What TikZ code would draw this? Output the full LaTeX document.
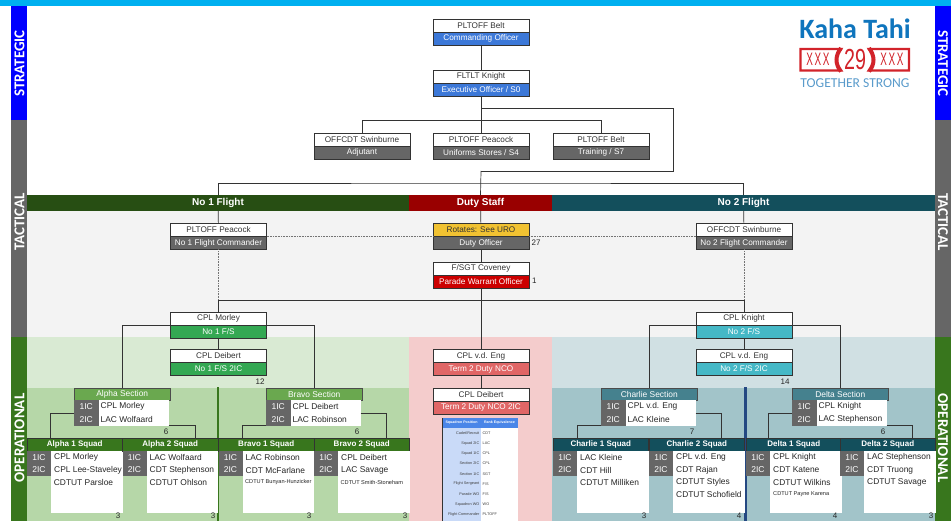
\documentclass[tikz,border=0pt]{standalone}
\usepackage{fontspec}
\setmainfont{Liberation Sans}
\newfontfamily\logofont{Carlito}
\usetikzlibrary{positioning}
\definecolor{topcyan}{HTML}{00B0F0}
\definecolor{stratblue}{HTML}{0000FF}
\definecolor{midgrey}{HTML}{666666}
\definecolor{opgreen}{HTML}{38761D}
\definecolor{darkgreen}{HTML}{274E13}
\definecolor{darkred}{HTML}{990000}
\definecolor{darkteal}{HTML}{134F5C}
\definecolor{tacbg}{HTML}{F3F3F3}
\definecolor{palegreen}{HTML}{D9EAD3}
\definecolor{palered}{HTML}{F4CCCC}
\definecolor{paleteal}{HTML}{D0E0E3}
\definecolor{softgreen}{HTML}{B6D7A8}
\definecolor{softteal}{HTML}{A2C4C9}
\definecolor{coblue}{HTML}{3C78D8}
\definecolor{dutyyellow}{HTML}{F1C232}
\definecolor{pwored}{HTML}{CC0000}
\definecolor{nco}{HTML}{E06666}
\definecolor{fsgreen}{HTML}{34A853}
\definecolor{fsteal}{HTML}{45B8C6}
\definecolor{secgreen}{HTML}{6AA84F}
\definecolor{secteal}{HTML}{45818E}
\definecolor{tablehead}{HTML}{4A86E8}
\definecolor{tablepale}{HTML}{C9DAF8}
\definecolor{logoblue}{HTML}{0F75BD}
\definecolor{logosky}{HTML}{5A9BCB}
\definecolor{logored}{HTML}{D2232A}
\definecolor{linegrey}{HTML}{333333}
\tikzset{
  namebox/.style={draw=linegrey,fill=white,line width=.6pt,minimum width=96pt,minimum height=13pt,inner sep=0pt,outer sep=0pt,anchor=north,font=\fontsize{8.2}{9}\selectfont,text=black!80},
  rolebox/.style={draw=linegrey,line width=.6pt,minimum width=96pt,minimum height=13pt,inner sep=0pt,outer sep=0pt,font=\fontsize{8.2}{9}\selectfont,text=white},
  stripbox/.style={font=\logofont\bfseries\fontsize{15}{16}\selectfont,text=white},
  flightbar/.style={minimum height=15.5pt,inner sep=0pt,outer sep=0pt,text=white,font=\bfseries\fontsize{10}{11}\selectfont},
  sechead/.style={draw=black!70,line width=.6pt,minimum width=96.5pt,minimum height=12.5pt,inner sep=0pt,outer sep=0pt,anchor=north west,text=white,font=\fontsize{8.4}{9}\selectfont},
  sqhead/.style={draw=linegrey,line width=.5pt,minimum width=95.5pt,minimum height=13pt,inner sep=0pt,outer sep=0pt,anchor=north west,text=white,font=\bfseries\fontsize{8}{9}\selectfont},
  icbox/.style={fill=midgrey,minimum width=24.5pt,minimum height=12.5pt,inner sep=0pt,outer sep=0pt,anchor=north west,text=white,font=\fontsize{8.5}{9}\selectfont},
  celltext/.style={anchor=west,inner sep=0pt,text=black!85,font=\fontsize{8.4}{9}\selectfont},
  smalltext/.style={anchor=west,inner sep=0pt,text=black!85,font=\fontsize{5.6}{6}\selectfont},
  whitebody/.style={fill=white,inner sep=0pt,outer sep=0pt,anchor=north west},
  countnum/.style={inner sep=0pt,text=black!85,font=\fontsize{8}{9}\selectfont},
  link/.style={draw=linegrey,line width=.7pt},
  softlink/.style={draw=black!55,line width=.6pt,densely dotted},
  cellhead/.style={inner sep=0pt,text=white,font=\bfseries\fontsize{3.6}{4}\selectfont},
  cellleft/.style={anchor=east,inner sep=0pt,text=black!75,font=\fontsize{3.8}{4}\selectfont},
  cellright/.style={anchor=west,inner sep=0pt,text=black!75,font=\fontsize{3.8}{4}\selectfont},
  bannerline/.style={draw=logored,line width=2.4pt,fill=white,line join=miter},
  bannerend/.style={draw=logored,line width=4pt},
  bannertext/.style={text=logored,inner sep=0pt,font=\fontsize{18}{19}\selectfont}
}
% name, x, top y, person, role, role colour
\newcommand{\posbox}[6]{%
  \node[namebox] (#1) at (#2,#3) {#4};
  \node[rolebox,fill=#6,below=0pt of #1] (#1r) {#5};
}
% name, left x, title, head colour, 1IC, 2IC
\newcommand{\secbox}[6]{%
  \node[sechead,fill=#4] (#1) at (#2,388) {#3};
  \node[icbox] (#1a) at (#2,400.5) {1IC};
  \node[icbox] (#1b) at (#2,413) {2IC};
  \node[whitebody,minimum width=70pt,minimum height=12.5pt] (#1an) at (#1a.north east) {};
  \node[whitebody,minimum width=70pt,minimum height=12.5pt] (#1bn) at (#1b.north east) {};
  \node[celltext] at ([xshift=2pt]#1an.west) {#5};
  \node[celltext] at ([xshift=2pt]#1bn.west) {#6};
}
% name, left x, title, head colour, 1IC, 2IC
\newcommand{\squadbox}[6]{%
  \node[sqhead,fill=#4] (#1) at (#2,438) {#3};
  \node[icbox,minimum width=24pt] (#1a) at (#2,451) {1IC};
  \node[icbox,minimum width=24pt] (#1c) at (#2,463) {2IC};
  \node[whitebody,minimum width=71.5pt,minimum height=61.5pt] (#1b) at (#1a.north east) {};
  \node[celltext] at ([shift={(3,6.5)}]#1b.north west) {#5};
  \node[celltext] at ([shift={(3,19)}]#1b.north west) {#6};
}
\begin{document}
\begin{tikzpicture}[x=1pt,y=-1pt]
  \useasboundingbox (0,0) rectangle (951,521);
  % backgrounds
  \fill[topcyan] (0,0) rectangle (951,6.5);
  \fill[tacbg] (27,211) rectangle (935,337);
  \fill[palegreen] (27,337) rectangle (409,388);
  \fill[softgreen] (27,388) rectangle (409,521);
  \fill[palered] (409,337) rectangle (552,521);
  \fill[paleteal] (552,337) rectangle (935,388);
  \fill[softteal] (552,388) rectangle (935,521);
  % side strips
  \fill[stratblue] (10.5,6.5) rectangle (27,120);
  \fill[midgrey] (10.5,120) rectangle (27,337);
  \fill[opgreen] (10.5,337) rectangle (27,521);
  \fill[stratblue] (935,6.5) rectangle (951,120);
  \fill[midgrey] (935,120) rectangle (951,337);
  \fill[opgreen] (935,337) rectangle (951,521);
  \node[stripbox,rotate=90] at (19.5,63.5) {STRATEGIC};
  \node[stripbox,rotate=90] at (19.5,222) {TACTICAL};
  \node[stripbox,rotate=90] at (19.5,438) {OPERATIONAL};
  \node[stripbox,rotate=-90] at (943,63.5) {STRATEGIC};
  \node[stripbox,rotate=-90] at (943,222) {TACTICAL};
  \node[stripbox,rotate=-90] at (943,438) {OPERATIONAL};
  % section dividers
  \fill[opgreen] (217,387) rectangle (219,521);
  \fill[coblue!60!black] (744,387) rectangle (747,521);
  % logo
  \node[text=logoblue,inner sep=0pt,font=\logofont\bfseries\fontsize{28}{29}\selectfont] (kaha) at (855,29) {Kaha Tahi};
  \draw[bannerline] (800.5,49) -- (841,49) .. controls (835,56) and (835,64) .. (841,70.5) -- (800.5,70.5) -- cycle;
  \draw[bannerline] (909,49) -- (869,49) .. controls (875,56) and (875,64) .. (869,70.5) -- (909,70.5) -- cycle;
  \draw[bannerend] (841,48) .. controls (835,56) and (835,64) .. (841,71.5);
  \draw[bannerend] (869,48) .. controls (875,56) and (875,64) .. (869,71.5);
  \node[text=logored,inner sep=0pt,font=\fontsize{29}{30}\selectfont] (twonine) at (855,60) {\scalebox{.68}[1]{29}};
  \node[bannertext] (xleft) at (818,59.5) {\scalebox{.55}[1]{X\,X\,X}};
  \node[bannertext] (xright) at (892,59.5) {\scalebox{.55}[1]{X\,X\,X}};
  \node[text=logosky,inner sep=0pt,font=\logofont\fontsize{13.6}{14}\selectfont] (strong) at (855,83.5) {TOGETHER STRONG};
  % strategic boxes
  \posbox{co}{481}{19}{PLTOFF Belt}{Commanding Officer}{coblue}
  \posbox{xo}{481}{70}{FLTLT Knight}{Executive Officer / S0}{coblue}
  \posbox{adj}{362}{133}{OFFCDT Swinburne}{Adjutant}{midgrey}
  \posbox{uni}{481}{133}{PLTOFF Peacock}{Uniforms Stores / S4}{midgrey}
  \posbox{trg}{601}{133}{PLTOFF Belt}{Training / S7}{midgrey}
  % flight bars
  \node[flightbar,fill=darkgreen,minimum width=382pt] (flightone) at (218,203) {No 1 Flight};
  \node[flightbar,fill=darkred,minimum width=143pt] (dstaff) at (480.5,203) {Duty Staff};
  \node[flightbar,fill=darkteal,minimum width=383pt] (flighttwo) at (743.5,203) {No 2 Flight};
  % tactical boxes
  \posbox{fco}{218.5}{223.5}{PLTOFF Peacock}{No 1 Flight Commander}{midgrey}
  \node[namebox,fill=dutyyellow] (dof) at (481,223.5) {Rotates: See URO};
  \node[rolebox,fill=midgrey,below=0pt of dof] (dofr) {Duty Officer};
  \posbox{fct}{744}{223.5}{OFFCDT Swinburne}{No 2 Flight Commander}{midgrey}
  \posbox{pwo}{481}{262}{F/SGT Coveney}{Parade Warrant Officer}{pwored}
  \posbox{fsa}{218.5}{312}{CPL Morley}{No 1 F/S}{fsgreen}
  \posbox{fsb}{744}{312}{CPL Knight}{No 2 F/S}{fsteal}
  \posbox{fsad}{218.5}{349.5}{CPL Deibert}{No 1 F/S 2IC}{fsgreen}
  \posbox{fsbd}{744}{349.5}{CPL v.d. Eng}{No 2 F/S 2IC}{fsteal}
  \posbox{tdn}{481}{349.5}{CPL v.d. Eng}{Term 2 Duty NCO}{nco}
  \posbox{tdt}{481}{388}{CPL Deibert}{Term 2 Duty NCO 2IC}{nco}
  % sections
  \secbox{alpha}{74}{Alpha Section}{secgreen}{CPL Morley}{LAC Wolfaard}
  \secbox{bravo}{266}{Bravo Section}{secgreen}{CPL Deibert}{LAC Robinson}
  \secbox{charlie}{601}{Charlie Section}{secteal}{CPL v.d. Eng}{LAC Kleine}
  \secbox{delta}{792}{Delta Section}{secteal}{CPL Knight}{LAC Stephenson}
  % squads
  \squadbox{aone}{27}{Alpha 1 Squad}{opgreen}{CPL Morley}{CPL Lee-Staveley}
  \squadbox{atwo}{122.5}{Alpha 2 Squad}{opgreen}{LAC Wolfaard}{CDT Stephenson}
  \squadbox{bone}{218.5}{Bravo 1 Squad}{opgreen}{LAC Robinson}{CDT McFarlane}
  \squadbox{btwo}{314}{Bravo 2 Squad}{opgreen}{CPL Deibert}{LAC Savage}
  \squadbox{cone}{553}{Charlie 1 Squad}{darkteal}{LAC Kleine}{CDT Hill}
  \squadbox{ctwo}{649}{Charlie 2 Squad}{darkteal}{CPL v.d. Eng}{CDT Rajan}
  \squadbox{done}{746}{Delta 1 Squad}{darkteal}{CPL Knight}{CDT Katene}
  \squadbox{dtwo}{840}{Delta 2 Squad}{darkteal}{LAC Stephenson}{CDT Truong}
  % extra squad members
  \node[celltext] at (53.7,482) {CDTUT Parsloe};
  \node[celltext] at (149.5,482) {CDTUT Ohlson};
  \node[smalltext] at (245,482) {CDTUT Bunyan-Hunzicker};
  \node[smalltext] at (340.5,482) {CDTUT Smith-Stoneham};
  \node[celltext] at (580,482) {CDTUT Milliken};
  \node[celltext] at (676,482) {CDTUT Styles};
  \node[celltext] at (676,494.5) {CDTUT Schofield};
  \node[celltext] at (773,482) {CDTUT Wilkins};
  \node[smalltext] at (773,494.5) {CDTUT Payne Karena};
  \node[celltext] at (867,482) {CDTUT Savage};
  % junction points
  \coordinate (ja) at (481,120.5);
  \coordinate (jb) at (481,108);
  \coordinate (jc) at (673,108);
  \coordinate (jd) at (673,171);
  \coordinate (je) at (481,171);
  \coordinate (jf) at (481,183);
  \coordinate (jg) at (218.5,300);
  \coordinate (jh) at (744,300);
  \coordinate (aleft) at (50.7,438);
  \coordinate (aright) at (195,438);
  \coordinate (bleft) at (242,438);
  \coordinate (bright) at (386,438);
  \coordinate (cleft) at (577.5,438);
  \coordinate (cright) at (721,438);
  \coordinate (dleft) at (768,438);
  \coordinate (dright) at (912,438);
  % strategic links
  \draw[link] (cor)--(xo);
  \draw[link] (xor)--(uni);
  \draw[link] (adj.north) |- (ja) -| (trg.north);
  \draw[link] (jb)--(jc)--(jd)--(je);
  \draw[link] (je)--(dstaff.north);
  \draw[link] (flightone.north) |- (jf) -| (flighttwo.north);
  % tactical links
  \draw[link] (flightone)--(fco);
  \draw[link] (dstaff)--(dof);
  \draw[link] (flighttwo)--(fct);
  \draw[link] (dofr)--(pwo);
  \draw[link] (pwor)--(tdn);
  \draw[link] (tdnr)--(tdt);
  \draw[softlink] (fco.south east)--(dof.south west);
  \draw[softlink] (dof.south east)--(fct.south west);
  \draw[softlink] (fcor)--(jg);
  \draw[softlink] (fctr)--(jh);
  \draw[link] (jg)--(jh);
  \draw[link] (jg)--(fsa);
  \draw[link] (jh)--(fsb);
  \draw[link] (fsar)--(fsad);
  \draw[link] (fsbr)--(fsbd);
  % section links
  \draw[link] (fsa.south west) -| (alpha.north);
  \draw[link] (fsa.south east) -| (bravo.north);
  \draw[link] (fsb.south west) -| (charlie.north);
  \draw[link] (fsb.south east) -| (delta.north);
  % squad links
  \draw[link] (alphaa.south west) -| (aleft);
  \draw[link] (alphabn.south east) -| (aright);
  \draw[link] (bravob.south west) -| (bleft);
  \draw[link] (bravoan.south east) -| (bright);
  \draw[link] (charlieb.south west) -| (cleft);
  \draw[link] (charliean.south east) -| (cright);
  \draw[link] (deltaa.south west) -| (dleft);
  \draw[link] (deltabn.south east) -| (dright);
  % counts
  \node[countnum,anchor=west] at (531.5,243) {27};
  \node[countnum,anchor=west] at (532,281) {1};
  \node[countnum] at (260,381.5) {12};
  \node[countnum] at (785,381.5) {14};
  \node[countnum] at (166,432) {6};
  \node[countnum] at (357,432) {6};
  \node[countnum] at (692,432) {7};
  \node[countnum] at (883,432) {6};
  \foreach \cx/\cn in {118/3,213/3,309/3,405/3,644/3,739/4,835/4,931/3}
    \node[countnum] at (\cx,516) {\cn};
  % rank table
  \fill[white] (442,418) rectangle (517.5,521);
  \fill[tablepale] (442,428) rectangle (481,521);
  \fill[tablehead] (442,418) rectangle (517.5,428);
  \draw[black!80,line width=.8pt] (442,418)--(442,521);
  \node[cellhead] at (461.5,423) {Squadron Position};
  \node[cellhead] at (499.5,423) {Rank Equivalence};
  \foreach \ty/\tpos/\trank in {432.7/Cadet\slash Recruit/CDT,443.3/Squad 2IC/LAC,453.3/Squad 1IC/CPL,
      463.3/Section 2IC/CPL,474/Section 1IC/SGT,484/Flight Sergeant/{F/S},
      494/Parade WO/{F/S},504.3/Squadron WO/WO,514.3/Flight Commander/PLTOFF}{
    \node[cellleft] at (479.5,\ty) {\tpos};
    \node[cellright] at (482.5,\ty) {\trank};
  }
\end{tikzpicture}
\end{document}
